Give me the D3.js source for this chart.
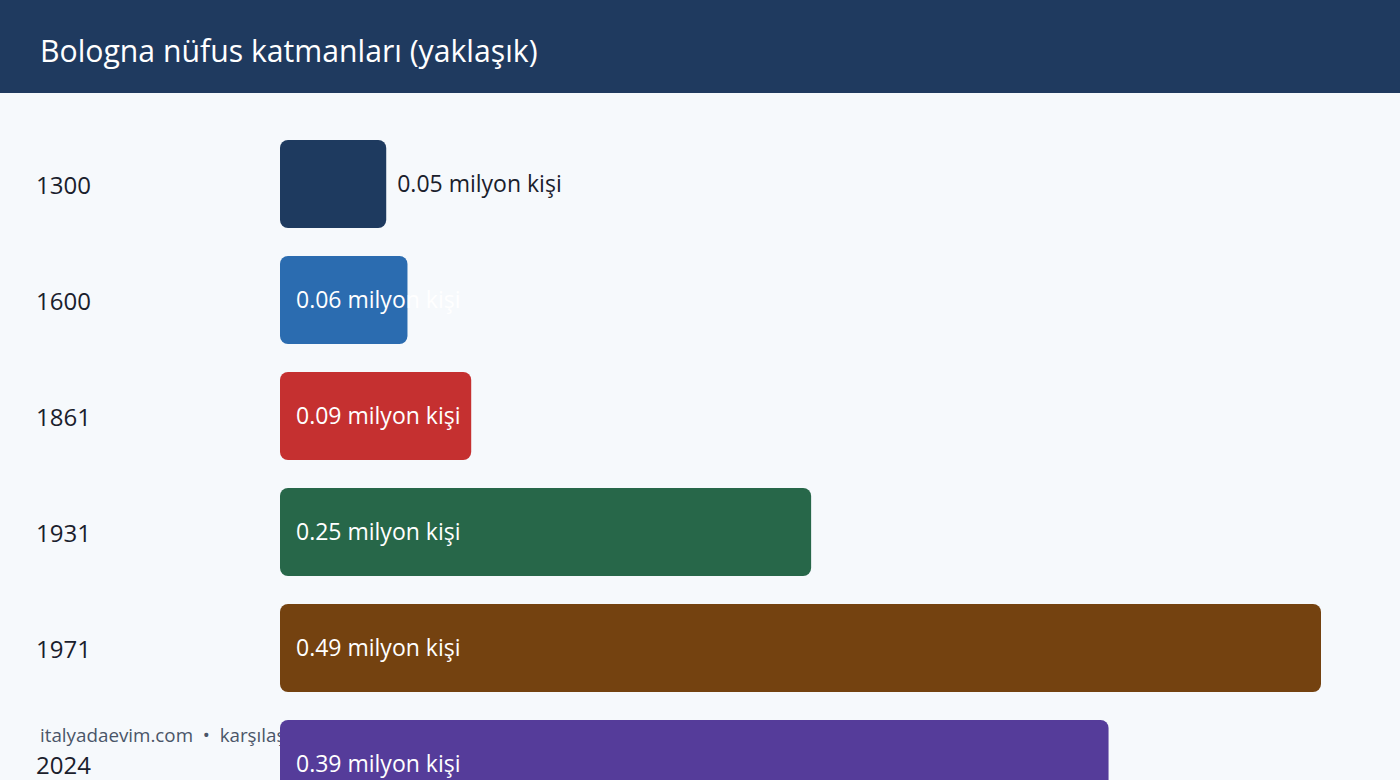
<!DOCTYPE html>
<html><head><meta charset="utf-8">
<script src="https://cdn.jsdelivr.net/npm/d3@7"></script>
<style>
html,body{margin:0;padding:0;background:#f6f9fc;}
svg{display:block;font-family:"Open Sans","Noto Sans",sans-serif;}
</style></head>
<body><svg id="c" width="1400" height="780"></svg>
<script>
const title = "Bologna nüfus katmanları (yaklaşık)";
const years = ["1300","1600","1861","1931","1971","2024"];
const values = [0.05,0.06,0.09,0.25,0.49,0.39];
const colors = ["#1e3a5f","#2b6cb0","#c53030","#276749","#744210","#553c9a"];
const unit = "milyon kişi";
const footer = "italyadaevim.com  •  karşılaştırma";

const svg = d3.select("#c");
svg.append("rect").attr("width",1400).attr("height",780).attr("fill","#f6f9fc");
svg.append("rect").attr("width",1400).attr("height",93).attr("fill","#1f3a5f");
svg.append("text").attr("x",40).attr("y",62).attr("fill","#fff")
  .attr("font-size",30.2).text(title);

svg.append("text").attr("x",40).attr("y",742).attr("fill","#4a5568")
  .attr("font-size",18.8).style("white-space","pre").text(footer);

const x = d3.scaleLinear().domain([0,d3.max(values)]).range([280,1321]);
const y2 = d3.scaleBand().domain(years).range([140,140+116*6-28]).paddingInner(28/116).paddingOuter(0);

const rows = svg.selectAll("g.row").data(years).join("g").attr("class","row");
rows.append("text").attr("x",36).attr("y",d=>y2(d)+y2.bandwidth()/2+10)
  .attr("fill","#1a202c").attr("font-size",24).text(d=>d);
rows.append("rect").attr("x",x(0)).attr("y",d=>y2(d))
  .attr("width",(d,i)=>x(values[i])-x(0)).attr("height",y2.bandwidth())
  .attr("rx",8).attr("fill",(d,i)=>colors[i]);
rows.append("text")
  .attr("x",(d,i)=> (x(values[i])-x(0)) > 120 ? x(0)+16 : x(values[i])+11)
  .attr("y",d=>y2(d)+y2.bandwidth()/2+8)
  .attr("fill",(d,i)=> (x(values[i])-x(0)) > 120 ? "#ffffff" : "#1a202c")
  .attr("font-size",23)
  .text((d,i)=>values[i].toFixed(2)+" "+unit);
</script></body></html>
